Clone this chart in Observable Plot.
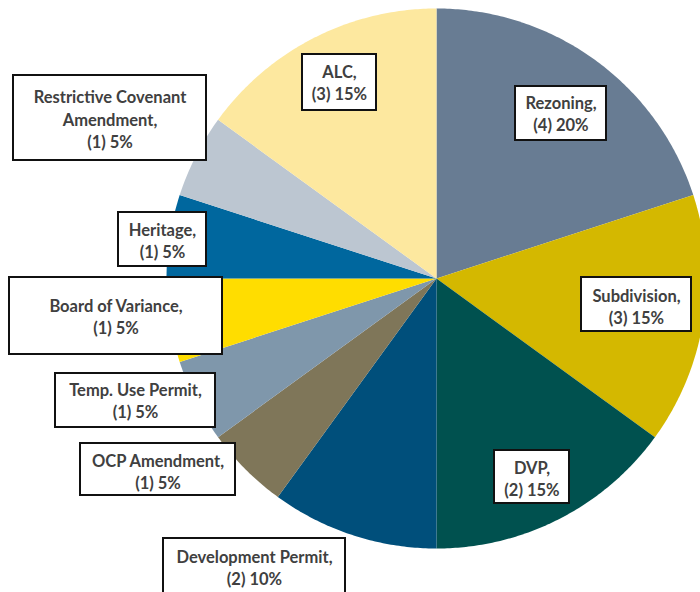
<!DOCTYPE html>
<html><head><meta charset="utf-8">
<script src="https://cdn.jsdelivr.net/npm/d3@7"></script>
<script src="https://cdn.jsdelivr.net/npm/@observablehq/plot@0.6"></script>
<style>body{margin:0;background:#fff;overflow:hidden}</style>
</head><body><div id="chart"></div>
<script>
// Data
const categories = ["Rezoning","Subdivision","DVP","Development Permit","OCP Amendment","Temp. Use Permit","Board of Variance","Heritage","Restrictive Covenant Amendment","ALC"];
const counts = [4,3,2,2,1,1,1,1,1,3];
const percents = [20,15,15,10,5,5,5,5,5,15];
const labelTexts = ["Rezoning,\n(4) 20%","Subdivision,\n(3) 15%","DVP,\n(2) 15%","Development Permit,\n(2) 10%","OCP Amendment,\n(1) 5%","Temp. Use Permit,\n(1) 5%","Board of Variance,\n(1) 5%","Heritage,\n(1) 5%","Restrictive Covenant\nAmendment,\n(1) 5%","ALC,\n(3) 15%"];
const colors = ["#687c93","#d4b800","#00514f","#004f7b","#7f7659","#7f97ab","#ffdd00","#00679e","#bcc6d1","#fde89f"];

// Layout (pixels)
const cx = 436, cy = 278, R = 270;
const labelBoxes = [ // [x1,x2,y1,y2]
  [515,606,86,140],[581,691,277,331],[494,569,450,503],[163,345,538,600],
  [80,235,443,495],[55,215,373,427],[9,222,277,354],[118,206,212,266],
  [13,206,75,160],[302,376,54,110]
];
const labelCenterY = [112,305,477,566,470,399,315,239,118,81];

const pie = d3.pie().sort(null).value(d => d)(percents);
const slicePts = [];
pie.forEach((a, i) => {
  slicePts.push({cat: categories[i], x: cx, y: cy});
  const n = Math.max(2, Math.ceil((a.endAngle - a.startAngle) / 0.01));
  for (let k = 0; k <= n; k++) {
    const t = a.startAngle + (a.endAngle - a.startAngle) * k / n;
    slicePts.push({cat: categories[i], x: cx + R * Math.sin(t), y: cy - R * Math.cos(t)});
  }
});
const labels = categories.map((c, i) => ({
  cat: c, text: labelTexts[i],
  x1: labelBoxes[i][0], x2: labelBoxes[i][1], y1: labelBoxes[i][2], y2: labelBoxes[i][3],
  tx: (labelBoxes[i][0] + labelBoxes[i][1]) / 2, ty: labelCenterY[i]
}));

const chart = Plot.plot({
  width: 700, height: 592, margin: 0,
  x: {domain: [0, 700], range: [0, 700], axis: null},
  y: {domain: [0, 592], range: [0, 592], axis: null},
  color: {domain: categories, range: colors},
  style: {fontFamily: "Lato, 'Open Sans', sans-serif", background: "#fff"},
  marks: [
    Plot.line(slicePts, {x: "x", y: "y", z: "cat", fill: "cat", stroke: "none", curve: "linear-closed"}),
    Plot.rect(labels, {x1: "x1", x2: "x2", y1: "y1", y2: "y2", fill: "white", stroke: "#111", strokeWidth: 2}),
    Plot.text(labels, {x: "tx", y: "ty", text: "text", fontSize: 16.5, fontWeight: "bold", fill: "#404040", lineHeight: 1.35, textAnchor: "middle", lineAnchor: "middle"})
  ]
});
document.getElementById("chart").appendChild(chart);
</script>
</body></html>
